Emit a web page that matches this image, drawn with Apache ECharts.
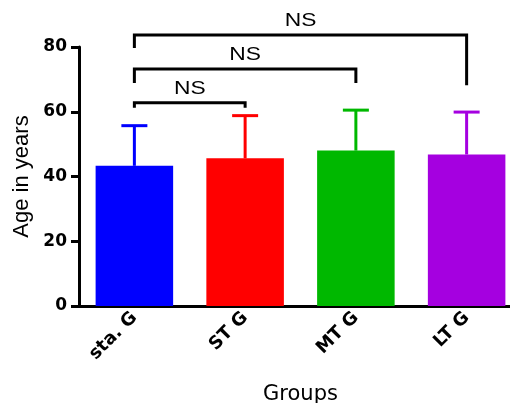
<!DOCTYPE html>
<html>
<head>
<meta charset="utf-8">
<script src="https://cdn.jsdelivr.net/npm/echarts@6/dist/echarts.min.js"></script>
<style>
  html, body { margin: 0; padding: 0; background: #fff; }
  #chart { width: 510px; height: 403px; }
</style>
</head>
<body>
<div id="chart"></div>
<script>
// groups and values
const categories = ['sta. G', 'ST G', 'MT G', 'LT G']
const meanAge = [43.3, 45.6, 48.0, 46.8]
const sdAge = [12.4, 13.2, 12.5, 13.1]
const yTicks = [0, 20, 40, 60, 80]
// pairwise comparisons
const comparisons = [[0, 1], [0, 2], [0, 3]]
const compLabels = ['NS', 'NS', 'NS']

// bracket layout (value units): [bar height, left leg end, right leg end, label height]
const bracketLayout = [
  [62.8, 61.2, 61.2, 67.0],
  [73.2, 68.9, 68.9, 77.5],
  [83.7, 79.7, 68.2, 88.0]
]
const barColors = ['#0000FF', '#FF0000', '#00B800', '#A500E0']
const font = 'Arial, "Liberation Sans", sans-serif'
const wideFont = '"DejaVu Sans", Arial, sans-serif'

const chart = echarts.init(document.getElementById('chart'))

const barData = meanAge.map((v, i) => ({ value: v, itemStyle: { color: barColors[i] } }))
const errData = meanAge.map((v, i) => [i, v, v + sdAge[i]])
const bracketData = comparisons.map((c, i) => [c[0], c[1]].concat(bracketLayout[i]))

const option = {
  animation: false,
  grid: { left: 79, top: 47, bottom: 97, right: -12, outerBoundsMode: 'none' },
  xAxis: {
    type: 'category',
    data: categories,
    name: 'Groups',
    nameLocation: 'middle',
    nameGap: 78,
    nameTextStyle: { fontFamily: wideFont, fontSize: 21, color: '#000' },
    axisLine: { lineStyle: { color: '#000', width: 3 } },
    axisTick: { alignWithLabel: true, length: 8, lineStyle: { color: '#000', width: 3 } },
    axisLabel: { rotate: 45, margin: 9, fontFamily: wideFont, fontSize: 18, fontWeight: 'bold', color: '#000' }
  },
  yAxis: {
    type: 'value',
    min: yTicks[0],
    max: yTicks[yTicks.length - 1],
    interval: yTicks[1] - yTicks[0],
    name: 'Age in years',
    nameLocation: 'middle',
    nameGap: 46,
    nameTextStyle: { fontFamily: font, fontSize: 22, color: '#000' },
    splitLine: { show: false },
    axisLine: { show: true, lineStyle: { color: '#000', width: 3 } },
    axisTick: { show: true, length: 8, lineStyle: { color: '#000', width: 3 } },
    axisLabel: { margin: 12, fontFamily: wideFont, fontSize: 17, fontWeight: 'bold', color: '#000' }
  },
  series: [
    {
      type: 'bar',
      data: barData,
      barWidth: '70%'
    },
    {
      // error bars (mean + SD)
      type: 'custom',
      data: errData,
      z: 3,
      renderItem: (params, api) => {
        const base = api.coord([api.value(0), api.value(1)])
        const top = api.coord([api.value(0), api.value(2)])
        const color = barColors[params.dataIndex]
        const style = { stroke: color, lineWidth: 3 }
        return {
          type: 'group',
          children: [
            { type: 'line', shape: { x1: base[0], y1: base[1], x2: top[0], y2: top[1] }, style: style },
            { type: 'line', shape: { x1: top[0] - 13, y1: top[1], x2: top[0] + 13, y2: top[1] }, style: style }
          ]
        }
      }
    },
    {
      // significance brackets
      type: 'custom',
      data: bracketData,
      clip: false,
      z: 4,
      renderItem: (params, api) => {
        const a = api.value(0)
        const b = api.value(1)
        const pL = api.coord([a, api.value(3)])
        const pTL = api.coord([a, api.value(2)])
        const pTR = api.coord([b, api.value(2)])
        const pR = api.coord([b, api.value(4)])
        const lab = api.coord([a, api.value(5)])
        const labR = api.coord([b, api.value(5)])
        return {
          type: 'group',
          children: [
            {
              type: 'polyline',
              shape: { points: [pL, pTL, pTR, pR] },
              style: { stroke: '#000', lineWidth: 3, fill: null }
            },
            {
              type: 'text',
              x: (lab[0] + labR[0]) / 2,
              y: lab[1],
              scaleX: 1.2,
              style: {
                text: compLabels[params.dataIndex],
                align: 'center',
                verticalAlign: 'middle',
                font: '19px ' + font,
                fill: '#000'
              }
            }
          ]
        }
      }
    }
  ]
}

chart.setOption(option)
</script>
</body>
</html>
